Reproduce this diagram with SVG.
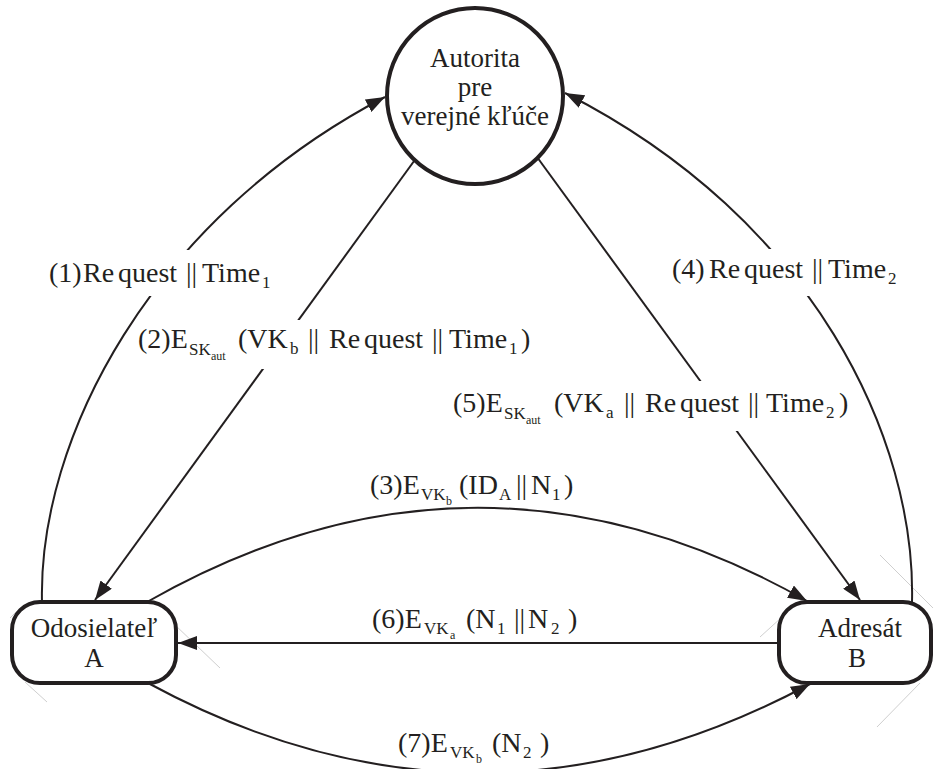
<svg xmlns="http://www.w3.org/2000/svg" width="934" height="769" viewBox="0 0 934 769">
<style>
text{font-family:"Liberation Serif","Times New Roman",serif;fill:#231f20}
.nt{font-size:27px;text-anchor:middle}
.lb{font-size:28px}
.s{font-size:17px}
.ss{font-size:12px}
.node{fill:#fff;stroke:#231f20;stroke-width:4}
.con{fill:none;stroke:#231f20;stroke-width:2}
.arr{marker-end:url(#ah)}
.bg{fill:#fff}
.faint{stroke:#cfcfcf;stroke-width:1}
</style>
<defs>
<marker id="ah" markerUnits="userSpaceOnUse" markerWidth="20" markerHeight="14" refX="19" refY="7" orient="auto">
<path d="M0,0 L19,7 L0,14 Z" fill="#231f20"/>
</marker>
</defs>
<rect width="934" height="769" fill="#fff"/>
<g id="faint-marks">
<line class="faint" x1="173" y1="623" x2="220" y2="668"/>
<line class="faint" x1="25" y1="682" x2="47" y2="702"/>
<line class="faint" x1="10" y1="618" x2="17" y2="611"/>
<line class="faint" x1="880" y1="555" x2="933" y2="608"/>
<line class="faint" x1="760" y1="637" x2="782" y2="617"/>
<line class="faint" x1="920" y1="683" x2="877" y2="727"/>
</g>
<g id="connectors">
<path id="c1" class="con arr" d="M42,602 C38,440 150,220 385,97"/>
<path id="c2" class="con arr" d="M417,157 L95,600"/>
<path id="c3" class="con arr" d="M147,602 Q477,414 807,601"/>
<path id="c4" class="con arr" d="M912,602 C916,440 815,220 565,93"/>
<path id="c5" class="con arr" d="M537,157 L860,600"/>
<path id="c6" class="con arr" d="M779,643 L178,643"/>
<path id="c7" class="con arr" d="M148,683 Q478,862 810,684"/>
</g>
<g id="labels">
<g id="l1">
<rect class="bg" x="46" y="250" width="230" height="46"/>
<text class="lb" y="282"><tspan x="49">(1)</tspan><tspan x="83">Re</tspan><tspan x="118">quest</tspan><tspan x="186">||</tspan><tspan x="202">Time</tspan><tspan class="s" x="262" y="288">1</tspan></text>
</g>
<g id="l2">
<rect class="bg" x="137" y="320" width="398" height="49"/>
<text class="lb" y="348"><tspan x="138">(2)E</tspan><tspan class="s" x="189" y="355">SK</tspan><tspan class="ss" x="211" y="360">aut</tspan><tspan x="238" y="348">(VK</tspan><tspan class="s" x="290" y="354">b</tspan><tspan x="308" y="348">||</tspan><tspan x="329">Re</tspan><tspan x="364">quest</tspan><tspan x="432">||</tspan><tspan x="449">Time</tspan><tspan class="s" x="509" y="354">1</tspan><tspan x="521" y="348">)</tspan></text>
</g>
<g id="l4">
<rect class="bg" x="668" y="249" width="236" height="47"/>
<text class="lb" y="278"><tspan x="672">(4)</tspan><tspan x="709">Re</tspan><tspan x="744">quest</tspan><tspan x="812">||</tspan><tspan x="828">Time</tspan><tspan class="s" x="888" y="284">2</tspan></text>
</g>
<g id="l5">
<rect class="bg" x="449" y="381" width="403" height="50"/>
<text class="lb" y="412"><tspan x="453">(5)E</tspan><tspan class="s" x="504" y="419">SK</tspan><tspan class="ss" x="526" y="424">aut</tspan><tspan x="554" y="412">(VK</tspan><tspan class="s" x="606" y="418">a</tspan><tspan x="624" y="412">||</tspan><tspan x="645">Re</tspan><tspan x="680">quest</tspan><tspan x="748">||</tspan><tspan x="766">Time</tspan><tspan class="s" x="826" y="418">2</tspan><tspan x="839" y="412">)</tspan></text>
</g>
<g id="l3">
<text class="lb" y="494"><tspan x="370">(3)E</tspan><tspan class="s" x="421" y="500">VK</tspan><tspan class="ss" x="446" y="505">b</tspan><tspan x="459" y="494">(ID</tspan><tspan class="s" x="499" y="500">A</tspan><tspan x="516" y="494">||</tspan><tspan x="531">N</tspan><tspan class="s" x="552" y="500">1</tspan><tspan x="564" y="494">)</tspan></text>
</g>
<g id="l6">
<text class="lb" y="628"><tspan x="372">(6)E</tspan><tspan class="s" x="424" y="634">VK</tspan><tspan class="ss" x="450" y="639">a</tspan><tspan x="466" y="628">(N</tspan><tspan class="s" x="497" y="634">1</tspan><tspan x="514" y="628">||</tspan><tspan x="528">N</tspan><tspan class="s" x="551" y="634">2</tspan><tspan x="568" y="628">)</tspan></text>
</g>
<g id="l7">
<text class="lb" y="752"><tspan x="398">(7)E</tspan><tspan class="s" x="450" y="758">VK</tspan><tspan class="ss" x="476" y="763">b</tspan><tspan x="492" y="752">(N</tspan><tspan class="s" x="523" y="758">2</tspan><tspan x="540" y="752">)</tspan></text>
</g>
</g>
<g id="node-autorita">
<circle class="node" cx="475" cy="96" r="88"/>
<text class="nt" x="475" y="67">Autorita</text>
<text class="nt" x="475" y="96">pre</text>
<text class="nt" x="475" y="125">verejné kľúče</text>
</g>
<g id="node-odosielatel">
<rect class="node" x="12" y="602" width="164" height="81" rx="28"/>
<text class="nt" x="94" y="637">Odosielateľ</text>
<text class="nt" x="94" y="667">A</text>
</g>
<g id="node-adresat">
<rect class="node" x="779" y="602" width="152" height="81" rx="28"/>
<text class="nt" x="860" y="637">Adresát</text>
<text class="nt" x="857" y="667">B</text>
</g>
</svg>
